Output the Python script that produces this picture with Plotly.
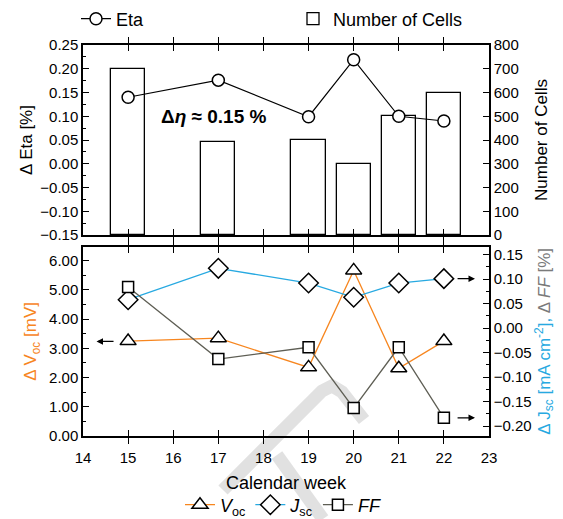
import plotly.graph_objects as go

# ---------------- data ----------------
weeks = [15, 17, 19, 20, 21, 22]
eta = [0.140, 0.176, 0.099, 0.219, 0.100, 0.090]
cells = [700, 390, 400, 300, 500, 600]
voc = [3.25, 3.35, 2.35, 5.67, 2.32, 3.25]
jsc = [0.058, 0.122, 0.092, 0.063, 0.092, 0.101]
ff = [0.084, -0.063, -0.039, -0.163, -0.039, -0.183]

ORANGE = "#F7861F"
CYAN = "#27A9E1"
GRAY = "#5E5E54"
GRAY_T = "#7a7a7a"
FONT = "Arial, Liberation Sans, sans-serif"

# plot-area pixel frame (for paper conversion of decorations)
L, R, T, B = 83, 489, 45, 436
W, H = 563, 519


def px(x):
    return (x - L) / (R - L)


def py(y):
    return (B - y) / (B - T)


fig = go.Figure()

# top panel: bars (right axis, base) + eta line (left axis, overlay)
fig.add_trace(go.Bar(
    x=weeks, y=cells, width=0.76, xaxis="x2", yaxis="y3",
    marker=dict(color="white", line=dict(color="black", width=1.3)),
    name="Number of Cells", legend="legend2", showlegend=True,
))
fig.add_trace(go.Scatter(
    x=weeks, y=eta, xaxis="x2", yaxis="y4", mode="lines+markers",
    line=dict(color="black", width=1.2),
    marker=dict(symbol="circle", size=12, color="white",
                line=dict(color="black", width=1.5)),
    name="Eta", legend="legend", showlegend=True,
))

# bottom panel
fig.add_trace(go.Scatter(
    x=weeks, y=voc, xaxis="x", yaxis="y", mode="lines+markers",
    line=dict(color=ORANGE, width=1.3),
    marker=dict(symbol="triangle-up", size=14, color="white",
                line=dict(color="black", width=1.5)),
    name="<i>V</i><sub>oc</sub>", legend="legend3", showlegend=True,
))
fig.add_trace(go.Scatter(
    x=weeks, y=jsc, xaxis="x", yaxis="y2", mode="lines+markers",
    line=dict(color=CYAN, width=1.3),
    marker=dict(symbol="diamond", size=15, color="white",
                line=dict(color="black", width=1.5)),
    name="<i>J</i><sub>sc</sub>", legend="legend3", showlegend=True,
))
fig.add_trace(go.Scatter(
    x=weeks, y=ff, xaxis="x", yaxis="y2", mode="lines+markers",
    line=dict(color=GRAY, width=1.3),
    marker=dict(symbol="square", size=11, color="white",
                line=dict(color="black", width=1.5)),
    name="<i>FF</i>", legend="legend3", showlegend=True,
))

tickfont = dict(family=FONT, size=15, color="black")
common = dict(showline=True, linecolor="black", linewidth=1.5,
              ticks="inside", ticklen=6, tickwidth=1.3, tickcolor="black",
              showgrid=False, zeroline=False, tickfont=tickfont)
minor = lambda d: dict(ticks="inside", ticklen=3.5, tickwidth=1.2,
                       tickcolor="black", dtick=d, showgrid=False)

fig.update_layout(
    width=W, height=H,
    margin=dict(l=L, r=W - R, t=T, b=H - B, autoexpand=False),
    paper_bgcolor="white", plot_bgcolor="rgba(0,0,0,0)",
    font=dict(family=FONT, size=15, color="black"),
    showlegend=True,
    xaxis=dict(domain=[0, 1], anchor="y", range=[14, 23], dtick=1,
               mirror="allticks", ticklabelstandoff=7,
               title=dict(text="Calendar week", font=dict(size=18),
                          standoff=12),
               **common),
    xaxis2=dict(domain=[0, 1], anchor="y3", matches="x", range=[14, 23],
                dtick=1, mirror="allticks", showticklabels=False, **common),
    yaxis=dict(domain=[0, 0.484], anchor="x", range=[0, 6.48], dtick=1,
               tickformat=".2f", minor=minor(0.5),
               title=dict(text="Δ V<sub>oc</sub> [mV]",
                          font=dict(size=17, color=ORANGE), standoff=8),
               **common),
    yaxis2=dict(anchor="x", overlaying="y", side="right",
                range=[-0.22, 0.166], dtick=0.05, tickformat=".2f",
                minor=minor(0.025),
                title=dict(
                    text=(f'<span style="color:{CYAN}">Δ J<sub>sc</sub> '
                          f'[mA cm<sup>-2</sup>],</span>'
                          f'<span style="color:{GRAY_T}"> Δ <i>FF</i> [%]</span>'),
                    font=dict(size=17), standoff=6),
                **common),
    yaxis3=dict(domain=[0.514, 1], anchor="x2", side="right", range=[0, 800],
                dtick=100,
                title=dict(text="Number of Cells", font=dict(size=17),
                           standoff=17),
                **common),
    yaxis4=dict(anchor="x2", overlaying="y3", side="left",
                range=[-0.15, 0.25], dtick=0.05, tickformat=".2f",
                minor=minor(0.025),
                title=dict(text="Δ Eta [%]", font=dict(size=17), standoff=3),
                **common),
    legend=dict(x=px(76), y=py(19), xanchor="left", yanchor="middle",
                bgcolor="rgba(0,0,0,0)", font=dict(size=18), itemwidth=30),
    legend2=dict(x=px(293), y=py(19), xanchor="left", yanchor="middle",
                 bgcolor="rgba(0,0,0,0)", font=dict(size=18), itemwidth=30),
    legend3=dict(x=px(180), y=py(505), xanchor="left", yanchor="middle",
                 orientation="h", bgcolor="rgba(0,0,0,0)",
                 font=dict(size=18), itemwidth=30),
    bargap=0,
)

# annotation text
fig.add_annotation(x=16.9, y=0.099, xref="x2", yref="y4",
                   text="<b>Δ<i>η</i> ≈ 0.15 %</b>", showarrow=False,
                   font=dict(size=19, color="black"))

# axis-pointing arrows
arrow = dict(showarrow=True, arrowhead=2, arrowsize=1, arrowwidth=1.3,
             arrowcolor="black", text="", standoff=0, startstandoff=0)
fig.add_annotation(x=14.30, y=3.24, ax=14.71, ay=3.24, xref="x", yref="y",
                   axref="x", ayref="y", **arrow)
fig.add_annotation(x=22.69, y=0.101, ax=22.27, ay=0.101, xref="x", yref="y2",
                   axref="x", ayref="y2", **arrow)
fig.add_annotation(x=22.69, y=-0.183, ax=22.27, ay=-0.183, xref="x",
                   yref="y2", axref="x", ayref="y2", **arrow)

# light watermark strokes (decoration)
def path(pts):
    return "M " + " L ".join(f"{px(a):.4f},{py(b):.4f}" for a, b in pts)

wm = dict(type="path", xref="paper", yref="paper", layer="below",
          line=dict(color="rgba(205,205,205,0.6)", width=13))
fig.add_shape(path=path([(223, 490), (322, 391), (332, 386), (342, 392),
                         (364, 420)]), **wm)
fig.add_shape(path=path([(277, 455), (323, 519)]), **wm)

fig.write_html("out.html")
